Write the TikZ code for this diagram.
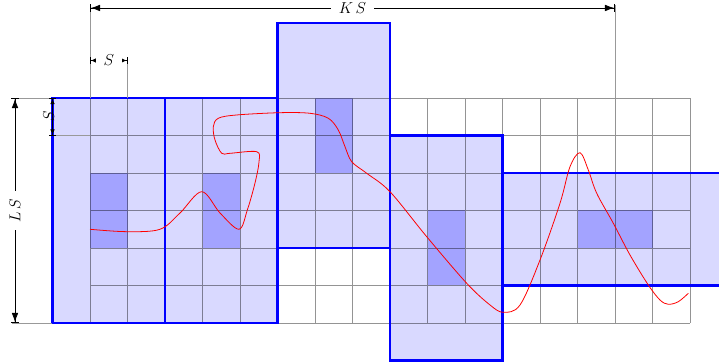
\documentclass[tikz,border=0pt]{standalone}
\usetikzlibrary{arrows.meta}
\begin{document}
\begin{tikzpicture}[x=1cm,y=1cm,
  boxfill/.style={fill=blue!15},
  darkcell/.style={fill=blue!36},
  gridline/.style={draw=black, draw opacity=0.42, line width=0.6pt},
  boxedge/.style={draw=blue, line width=1.8pt},
  extline/.style={draw=black!40, line width=0.6pt},
  dimbig/.style={line width=0.6pt, arrows={{Bar[width=6pt,line width=0.6pt]Latex[length=7pt,width=5pt]}-{Latex[length=7pt,width=5pt]Bar[width=6pt,line width=0.6pt]}}},
  dimsmall/.style={line width=0.6pt, arrows={{Bar[width=5pt,line width=0.6pt]Latex[length=4pt,width=3.5pt]}-{Latex[length=4pt,width=3.5pt]Bar[width=5pt,line width=0.6pt]}}},
  dimlabel/.style={fill=white, inner xsep=6pt, inner ysep=1pt, font=\fontsize{12}{14}\selectfont},
  curve/.style={draw=red, line width=0.6pt}
]
\clip (-2.4,-1.093) rectangle (16.773,8.613);

% light box fills
\fill[boxfill] (-1,0) rectangle (2,6);
\fill[boxfill] (2,0) rectangle (5,6);
\fill[boxfill] (5,2) rectangle (8,8);
\fill[boxfill] (8,-1) rectangle (11,5);
\fill[boxfill] (11,1) rectangle (17.2,4);

% dark cells
\fill[darkcell] (0,2) rectangle (1,4);
\fill[darkcell] (3,2) rectangle (4,4);
\fill[darkcell] (6,4) rectangle (7,6);
\fill[darkcell] (9,1) rectangle (10,3);
\fill[darkcell] (13,2) rectangle (15,3);

% grid
\draw[gridline] (0,0) grid (16,6);

% box outlines
\draw[boxedge] (-1,0) rectangle (2,6);
\draw[boxedge] (2,0) rectangle (5,6);
\draw[boxedge] (5,2) rectangle (8,8);
\draw[boxedge] (8,-1) rectangle (11,5);
\draw[boxedge] (11,1) rectangle (17.2,4);

% curve
\draw[curve] plot[smooth, tension=0.55] coordinates {
 (0,2.499) (0.979,2.435) (1.867,2.499) (2.4,2.933) (2.979,3.501) (3.467,2.933)
 (3.973,2.499) (4.195,3.013) (4.4,3.733) (4.507,4.301) (4.445,4.568)
 (3.733,4.525) (3.512,4.525) (3.333,4.88) (3.288,5.235) (3.421,5.459)
 (3.912,5.547) (5.067,5.608) (5.867,5.592) (6.355,5.459) (6.621,5.147)
 (6.8,4.701) (6.979,4.301) (7.379,3.992) (8,3.501) (8.979,2.301)
 (10.045,1.059) (10.667,0.48) (11.021,0.285) (11.467,0.48) (12,1.68)
 (12.533,3.192) (12.8,4.168) (13.067,4.541) (13.288,4.08) (13.512,3.459)
 (13.955,2.659) (14.4,1.813) (14.888,1.013) (15.2,0.613) (15.421,0.499)
 (15.688,0.568) (15.955,0.792)};

% dimension coordinates
\coordinate (ksA) at (0,8.4);
\coordinate (ksB) at (14,8.4);
\coordinate (sA) at (0,7);
\coordinate (sB) at (1,7);
\coordinate (lsA) at (-2,0);
\coordinate (lsB) at (-2,6);
\coordinate (svA) at (-1,6);
\coordinate (svB) at (-1,5);

% extension lines
\draw[extline] (0,8.48) -- (0,6);
\draw[extline] (14,8.48) -- (14,6);
\draw[extline] (1,7.08) -- (1,6);
\draw[extline] (-2.07,6) -- (-1,6);
\draw[extline] (-2.07,0) -- (-1,0);
\draw[extline] (-1.05,5) -- (0,5);

% dimension lines
\draw[dimbig] (ksA) -- (ksB) node[dimlabel, midway] {$K\,S$};
\draw[dimsmall] (sA) -- (sB) node[dimlabel, midway] {$S$};
\draw[dimbig] (lsA) -- (lsB) node[dimlabel, midway, rotate=90] {$L\,S$};
\draw[dimsmall] (svA) -- (svB);
\node[font=\fontsize{12}{14}\selectfont, inner sep=0pt, rotate=90] (svL) at (-1.1,5.52) {$S$};
\end{tikzpicture}
\end{document}
